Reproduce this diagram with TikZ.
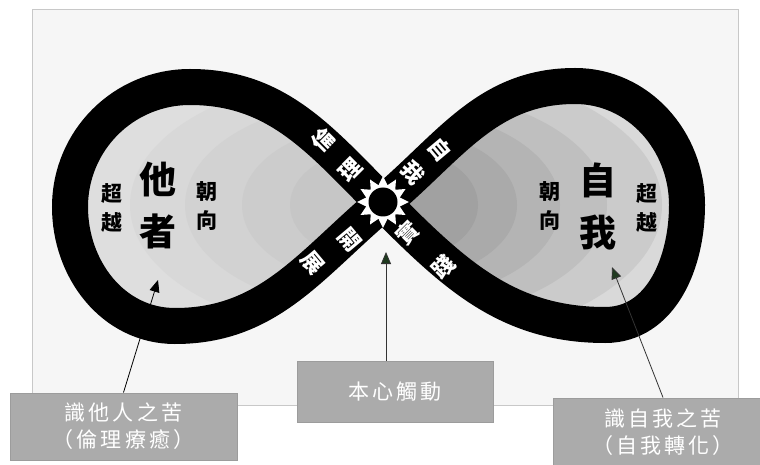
\documentclass[tikz,border=0pt]{standalone}
\usepackage{fontspec}
\newfontfamily\cjk{Noto Sans CJK TC}
\newfontfamily\cjkbox[LetterSpace=15]{Noto Sans CJK TC}
\usetikzlibrary{arrows.meta,shapes.geometric}

\definecolor{paper}{HTML}{F6F6F6}
\definecolor{paperedge}{HTML}{C8C8C8}
\definecolor{boxfill}{HTML}{ABABAB}
\definecolor{boxedge}{HTML}{9C9C9C}
\definecolor{tipgreen}{HTML}{1F3A1F}
\definecolor{lg0}{HTML}{DEDEDE}
\definecolor{lg1}{HTML}{D8D8D8}
\definecolor{lg2}{HTML}{D2D2D2}
\definecolor{lg3}{HTML}{CCCCCC}
\definecolor{lg4}{HTML}{C6C6C6}
\definecolor{rg0}{HTML}{D9D9D9}
\definecolor{rg1}{HTML}{CBCBCB}
\definecolor{rg2}{HTML}{BFBFBF}
\definecolor{rg3}{HTML}{B4B4B4}
\definecolor{rg4}{HTML}{AAAAAA}
\definecolor{rg5}{HTML}{A1A1A1}

\begin{document}
\begin{tikzpicture}[x=1pt,y=1pt,
  band/.style={line width=36pt,black},
  side/.style={font=\cjk\bfseries\fontsize{21}{29}\selectfont,align=center,inner sep=0pt},
  big/.style={font=\cjk\bfseries\fontsize{37}{52}\selectfont,align=center,inner sep=0pt},
  onband/.style={font=\cjk\bfseries\fontsize{22}{22}\selectfont,text=white,inner sep=0pt},
  greybox/.style={draw=boxedge,fill=boxfill,line width=1pt,text=white,
    font=\cjkbox\fontsize{21}{27}\selectfont,align=center,inner sep=0pt},
  pointer/.style={-{Triangle[length=12pt,width=10pt]},line width=0.8pt}]
\useasboundingbox (0,0) rectangle (760,464);
\draw[fill=paper,draw=paperedge,line width=0.8pt] (32,59) rectangle (738,455);

\coordinate (C) at (383,261);
\coordinate (L1) at (190,377);
\coordinate (L2) at (70,257);
\coordinate (L3) at (175,138);
\coordinate (R1) at (575,378);
\coordinate (R2) at (687,259);
\coordinate (R3) at (605,139);

% shading inside the left loop
\begin{scope}
\clip (C) to[out=135,in=0] (L1) to[out=180,in=90] (L2) to[out=-90,in=180] (L3) to[out=0,in=-140] (C);
\fill[lg0] (0,0) rectangle (400,464);
\fill[lg1] (370,259) ellipse (240 and 130);
\fill[lg2] (370,259) ellipse (185 and 105);
\fill[lg3] (370,259) ellipse (128 and 80);
\fill[lg4] (370,259) ellipse (80 and 55);
\end{scope}

% shading inside the right loop
\begin{scope}
\clip (C) to[out=40,in=180] (R1) to[out=0,in=90] (R2) to[out=-90,in=0] (R3) to[out=180,in=-45] (C);
\fill[rg0] (370,0) rectangle (760,464);
\fill[rg1] (400,259) ellipse (262 and 140);
\fill[rg2] (400,259) ellipse (207 and 115);
\fill[rg3] (400,259) ellipse (160 and 95);
\fill[rg4] (400,259) ellipse (117 and 75);
\fill[rg5] (400,259) ellipse (78 and 55);
\end{scope}

% the figure eight
\draw[band] (C) to[out=135,in=0] (L1) to[out=180,in=90] (L2) to[out=-90,in=180] (L3)
  to[out=0,in=-140] (C) to[out=40,in=180] (R1) to[out=0,in=90] (R2)
  to[out=-90,in=0] (R3) to[out=180,in=-45] (C);

\node[star,star points=12,star point ratio=1.5,minimum size=52pt,fill=white,inner sep=0pt] (rays) at (383,262) {};
\node[circle,fill=black,minimum size=29pt,inner sep=0pt] (sun) at (383,262) {};

\node[onband,rotate=45] (lun) at (323,324) {倫};
\node[onband,rotate=45] (li) at (350,294) {理};
\node[onband,rotate=-50] (zi) at (440,314) {自};
\node[onband,rotate=-50] (wo) at (413,291) {我};
\node[onband,rotate=-50] (kai) at (350,224) {開};
\node[onband,rotate=-50] (zhan) at (313,201) {展};
\node[onband,rotate=45] (shi) at (407,231) {實};
\node[onband,rotate=45] (jian) at (443,197) {踐};

\node[side] (lover) at (112,256) {超\\越};
\node[big] (other) at (158,258) {他\\者};
\node[side] (ltoward) at (207,258) {朝\\向};
\node[side] (rtoward) at (550,258) {朝\\向};
\node[big] (self) at (598,258) {自\\我};
\node[side] (rover) at (647,256) {超\\越};

\node[greybox,minimum width=227pt,minimum height=67pt] (lbox) at (123.5,37.5) {識他人之苦\\（倫理療癒）};
\node[greybox,minimum width=196pt,minimum height=61pt] (cbox) at (395,72.5) {本心觸動};
\node[greybox,minimum width=220pt,minimum height=68pt] (rbox) at (663,32) {識自我之苦\\（自我轉化）};

\coordinate (ltip) at (158,184);
\coordinate (ctip) at (386,212);
\coordinate (rtip) at (612,197);
\draw[pointer,black] (lbox.north) -- (ltip);
\draw[pointer,black!80,-{Triangle[length=12pt,width=10pt,fill=tipgreen]}] (ctip |- cbox.north) -- (ctip);
\draw[pointer,black!80,-{Triangle[length=12pt,width=10pt,fill=tipgreen]}] (rbox.north) -- (rtip);
\end{tikzpicture}
\end{document}
